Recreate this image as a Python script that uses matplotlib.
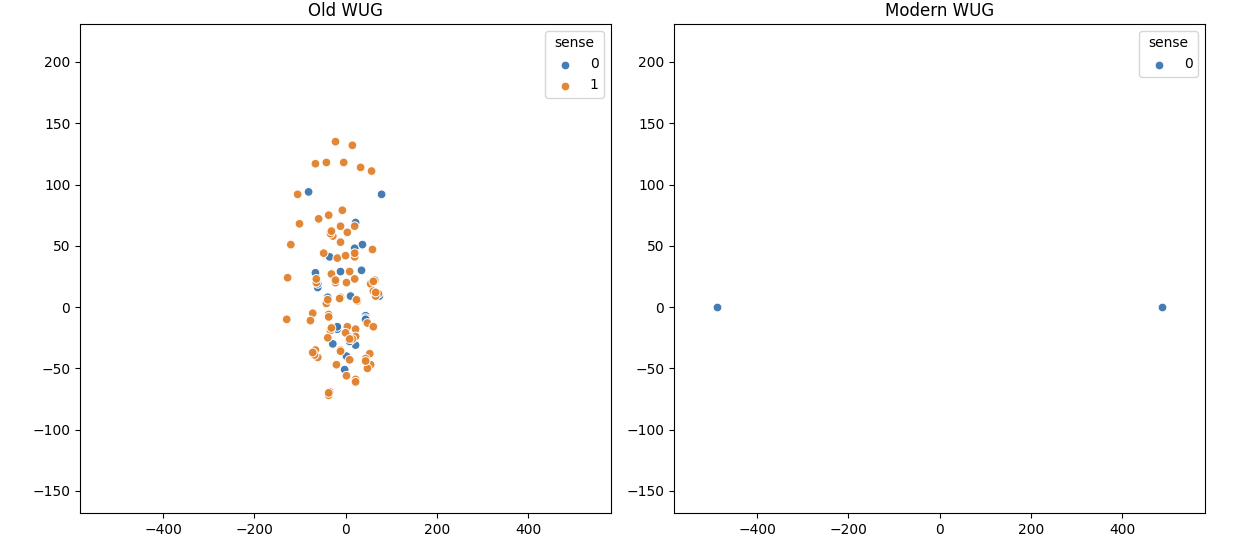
import numpy as np
import matplotlib
matplotlib.use("Agg")
import matplotlib.pyplot as plt

# Old WUG, sense 1 (orange)
old_x1 = [-22, 15, -66, -42, -4, 33, 57, -105, -7, -37, -59, -101, -11, 4, -28, -11,
          -120, 59, -48, -18, 0, 20, -127, -64, -31, 9, -22, 2, 20, 55, 64, 61,
          -42, -11, 26, -129, -72, -37, -77, -37, 48, 61, -33, 4, 22, 7, 22, -39,
          -11, -66, 53, 9, 44, -61, -68, -20, 55, 2, 22, -35, -37, 72, 20, -33,
          48, 66, 15, 0, 24, -13, -31, 9, -39, -64, 61, 66, -11, 44, 22, -37,
          -72, -22, 20, -31]
old_y1 = [135, 132, 117, 118, 118, 114, 111, 92, 79, 75, 72, 68, 66, 61, 58, 53,
          51, 47, 44, 40, 42, 41, 24, 20, 27, 29, 20, 20, 23, 19, 22, 13,
          3, 8, 5, -10, -5, -6, -11, -8, -13, -16, -19, -16, -18, -24, -24, -25,
          -35, -35, -38, -43, -42, -41, -39, -47, -47, -56, -59, -69, -72, 11, 66, 60,
          -50, 9, -26, -21, 6, 7, -17, -26, 6, 23, 21, 12, -36, -44, -61, -70,
          -37, 22, 44, 62]

# Old WUG, sense 0 (blue)
old_x0 = [-81, 79, 22, 37, 20, -35, -66, -61, -11, 35, -39, 11, 44, 44, -18, -28,
          22, 2, -2, 74, 22, 9, -61, -18, 44]
old_y0 = [94, 92, 69, 51, 48, 41, 28, 16, 29, 30, 8, 9, -7, -9, -18, -30,
          -31, -40, -51, 9, -24, -28, 19, -16, -10]

# Modern WUG, sense 0
mod_x0 = [-487, 487]
mod_y0 = [0, 0]

blue = "#3a75af"
orange = "#e1812c"

fig = plt.figure(figsize=(12.45, 5.39), dpi=100)
ax1 = fig.add_axes([0.0643, 0.0482, 0.4265, 0.9073])
ax2 = fig.add_axes([0.5414, 0.0482, 0.4265, 0.9073])

pt = dict(s=40, edgecolor="white", linewidth=0.75, alpha=0.95)

# interleave both senses in one scatter so either colour can sit on top
xs, ys, cs = [], [], []
n = max(len(old_x0), len(old_x1))
for i in range(n):
    for sx, sy, c in ((old_x1, old_y1, orange), (old_x0, old_y0, blue)):
        if i < len(sx):
            xs.append(sx[i])
            ys.append(sy[i])
            cs.append(c)
ax1.scatter(xs, ys, c=cs, **pt)
ax1.scatter([], [], color=blue, label="0", **pt)
ax1.scatter([], [], color=orange, label="1", **pt)
ax1.set_title("Old WUG")
ax1.legend(title="sense", loc="upper right")

ax2.scatter(mod_x0, mod_y0, color=blue, label="0", **pt)
ax2.set_title("Modern WUG")
ax2.legend(title="sense", loc="upper right")

for ax in (ax1, ax2):
    ax.set_xlim(-582, 582)
    ax.set_ylim(-168, 231)
    ax.set_xticks([-400, -200, 0, 200, 400])
    ax.set_yticks([-150, -100, -50, 0, 50, 100, 150, 200])

fig.savefig("out.png", dpi=100)
